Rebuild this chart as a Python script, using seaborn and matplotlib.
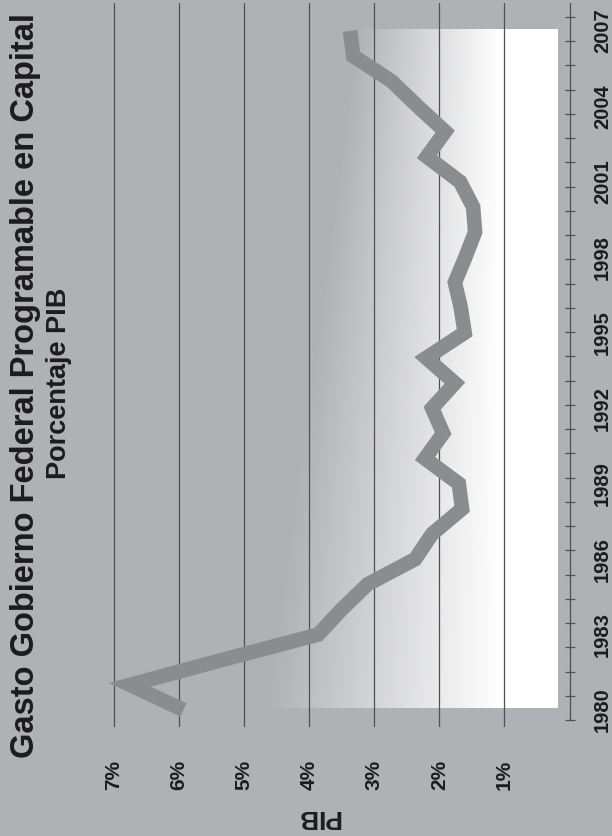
import numpy as np
import pandas as pd
import matplotlib
matplotlib.use("Agg")
import matplotlib.pyplot as plt
from matplotlib.ticker import FixedLocator
import seaborn as sns

# data: gasto programable en capital, % del PIB
years = list(range(1980, 2008))
pib = [5.93, 6.75, 5.32, 3.86, 3.50, 3.10, 2.37, 2.11, 1.65, 1.70,
       2.22, 1.94, 2.11, 1.76, 2.20, 1.61, 1.67, 1.76, 1.60, 1.45,
       1.48, 1.68, 2.19, 1.91, 2.33, 2.73, 3.32, 3.37]
year_labels = [1980, 1983, 1986, 1989, 1992, 1995, 1998, 2001, 2004, 2007]
pct_ticks = [1, 2, 3, 4, 5, 6, 7]
pct_labels = ["1%", "2%", "3%", "4%", "5%", "6%", "7%"]

BG = "#b0b1b5"
LINE = "#8b8c90"
GRID = "#505050"
TXT = "#1c1c1c"

sns.set_style("white")
plt.rcParams["font.family"] = ["Liberation Sans", "DejaVu Sans"]

fig = plt.figure(figsize=(6.12, 8.36), dpi=100, facecolor=BG)
# chart is drawn turned 90 degrees: percent runs right->left, years bottom->top
ax = fig.add_axes([100 / 612, 109 / 836, 469.5 / 612, 724 / 836])
ax.set_facecolor(BG)

df = pd.DataFrame({"year": years, "pib": pib})
sns.lineplot(data=df, x="pib", y="year", orient="y", sort=False, estimator=None,
             color=LINE, linewidth=10.5, ax=ax, zorder=3)
ln = ax.lines[0]
ln.set_solid_joinstyle("miter")
ln.set_solid_capstyle("butt")

# gradient panel behind the line (white at the right, fading into the grey)
gx = np.linspace(5.0, 0.18, 400)
gy = np.linspace(1980.08, 2007.04, 200)
px = 569.5 - 65.1 * gx
py = 710 - (gy - 1980) * 25.15
xs = 267 + (357 - 267) * (710 - py) / 680
t = np.clip((px[None, :] - xs[:, None]) / (500 - xs[:, None]), 0, 1)
bg = np.array(matplotlib.colors.to_rgb(BG))
rgb = bg + (1 - bg) * t[..., None]
ax.imshow(rgb, extent=(5.0, 0.18, 1980.08, 2007.04), origin="lower",
          aspect="auto", zorder=0.5, interpolation="bilinear")

ax.set_xlim(7.21, 0)
ax.set_ylim(1979.324, 2008.111)

ax.set_xticks(pct_ticks)
ax.set_xticklabels(pct_labels, rotation=90, fontsize=15, fontweight="bold", color=TXT)
ax.tick_params(axis="x", length=0, pad=23.5)
ax.set_axisbelow(True)
ax.grid(axis="x", color=GRID, linewidth=0.9)
ax.grid(axis="y", visible=False)

ax.yaxis.tick_right()
ax.set_yticks(year_labels)
ax.set_yticklabels([str(y) for y in year_labels], rotation=90, va="center", ha="left",
                   fontsize=14.5, fontweight="bold", color=TXT)
ax.tick_params(axis="y", which="major", length=0, pad=17)
ax.yaxis.set_minor_locator(FixedLocator(np.linspace(1979.602, 2007.555, 30)))
ax.tick_params(axis="y", which="minor", right=True, left=False, direction="inout",
               length=7.5, width=0.9, color=GRID)

for s in ["top", "left", "bottom"]:
    ax.spines[s].set_visible(False)
ax.spines["right"].set_color(GRID)
ax.spines["right"].set_linewidth(0.9)
ax.spines["right"].set_bounds(1979.602, 2008.111)

ax.set_xlabel("")
ax.set_ylabel("")

fig.text(26 / 612, 1 - 386 / 836, "Gasto Gobierno Federal Programable en Capital",
         rotation=90, ha="center", va="center", fontsize=23.5, fontweight="bold", color=TXT)
fig.text(59 / 612, 1 - 383 / 836, "Porcentaje PIB", rotation=90, ha="center",
         va="center", fontsize=19.5, fontweight="bold", color=TXT)
fig.text(318 / 612, 1 - 817 / 836, "PIB", rotation=180, ha="center", va="center",
         fontsize=19, fontweight="bold", color=TXT)

fig.savefig("out.png", dpi=100, facecolor=BG)
